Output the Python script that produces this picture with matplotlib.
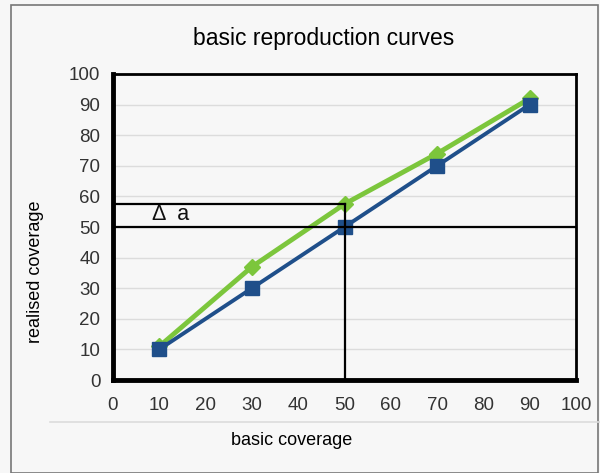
import matplotlib
matplotlib.use("Agg")
import matplotlib.pyplot as plt
from matplotlib.patches import Rectangle
from matplotlib.lines import Line2D

plt.rcParams['font.family'] = ['Liberation Sans', 'DejaVu Sans']

basic_coverage = [10, 30, 50, 70, 90]
blue_realised = [10, 30, 50, 70, 90]
green_realised = [11, 37, 57.5, 74, 92]
ticks = [0, 10, 20, 30, 40, 50, 60, 70, 80, 90, 100]
level_low = 50
level_high = 57.5
ref_x = 50

fig = plt.figure(figsize=(6.0, 4.73), dpi=100)
fig.patch.set_facecolor('#f7f7f7')
fig.patches.append(Rectangle((11/600, 0), 587/600, 1 - 5/473, transform=fig.transFigure,
                             fill=False, edgecolor='#777777', lw=1.2))
fig.lines.append(Line2D([50/600, 1.0], [1 - 422/473, 1 - 422/473], transform=fig.transFigure,
                        color='#dcdcdc', lw=1.2))

ax = fig.add_axes([113/600, 1 - 380/473, (576-113)/600, (380-74)/473])
ax.set_facecolor('#f7f7f7')
ax.set_xlim(0, 100)
ax.set_ylim(0, 100)
ax.set_xticks(ticks)
ax.set_yticks(ticks)
ax.grid(axis='y', color='#dcdcdc', lw=1)
ax.set_axisbelow(True)
ax.tick_params(length=0, labelsize=13.5, colors='#333333')
ax.tick_params(axis='x', pad=12)
ax.tick_params(axis='y', pad=9)
for s, w in [('left', 3.5), ('bottom', 3.5), ('top', 2), ('right', 2)]:
    ax.spines[s].set_linewidth(w)
    ax.spines[s].set_color('black')

ax.plot(basic_coverage, green_realised, color='#7cc63c', lw=3.5, marker='D', ms=8, zorder=3)
ax.plot(basic_coverage, blue_realised, color='#1f4f8a', lw=2.8, marker='s', ms=10, zorder=4)

ax.plot([0, 100], [level_low, level_low], color='black', lw=1.6, zorder=5)
ax.plot([0, ref_x], [level_high, level_high], color='black', lw=1.6, zorder=5)
ax.plot([ref_x, ref_x], [0, level_high], color='black', lw=1.6, zorder=5)
ax.text(8.5, 54, 'Δ  a', fontsize=15.5, va='center', ha='left', color='#111111')

fig.text(324/600, 1 - 38/473, 'basic reproduction curves', fontsize=16.5, ha='center', va='center')
fig.text(292/600, 1 - 440/473, 'basic coverage', fontsize=13, ha='center', va='center')
fig.text(36/600, 1 - 272/473, 'realised coverage', fontsize=13, ha='center', va='center', rotation=90)

fig.savefig('out.png', dpi=100, facecolor=fig.get_facecolor())
